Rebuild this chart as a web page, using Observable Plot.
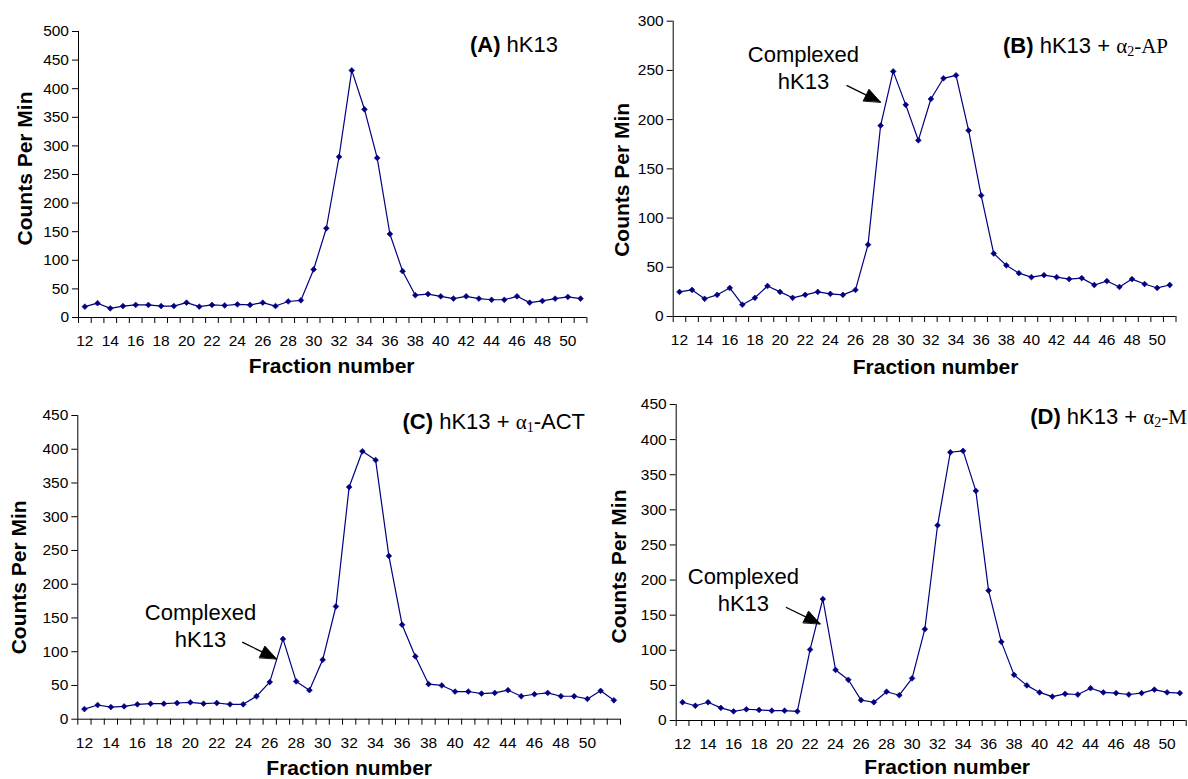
<!DOCTYPE html>
<html>
<head>
<meta charset="utf-8">
<script src="https://cdn.jsdelivr.net/npm/d3@7"></script>
<script src="https://cdn.jsdelivr.net/npm/@observablehq/plot@0.6"></script>
<style>
html, body { margin: 0; padding: 0; background: #fff; }
#fig { position: relative; width: 1188px; height: 779px; overflow: hidden; font-family: "Liberation Sans", Arial, sans-serif; }
.panel { position: absolute; }
.title { position: absolute; white-space: nowrap; font-size: 22px; color: #000; line-height: 1; transform: translateY(-50%); }
.title b { font-weight: bold; }
.serif { font-family: "Liberation Serif", "Times New Roman", serif; font-size: 21px; }
.serif sub { font-size: 14px; vertical-align: -3px; line-height: 0; }
</style>
</head>
<body>
<div id="fig"></div>
<script>
// ---------- data ----------
const fractionsA = [12,13,14,15,16,17,18,19,20,21,22,23,24,25,26,27,28,29,30,31,32,33,34,35,36,37,38,39,40,41,42,43,44,45,46,47,48,49,50,51];
const countsA    = [19,25,16,20,22,22,20,20,26,19,22,21,23,22,26,20,28,30,84,156,281,432,364,279,146,81,39,41,37,33,37,33,31,31,37,26,29,33,36,33];

const fractionsB = [12,13,14,15,16,17,18,19,20,21,22,23,24,25,26,27,28,29,30,31,32,33,34,35,36,37,38,39,40,41,42,43,44,45,46,47,48,49,50,51];
const countsB    = [25,27,18,22,29,12,19,31,25,19,22,25,23,22,27,73,194,249,215,179,221,242,245,189,123,64,52,44,40,42,40,38,39,32,36,30,38,33,29,32];

const fractionsC = [12,13,14,15,16,17,18,19,20,21,22,23,24,25,26,27,28,29,30,31,32,33,34,35,36,37,38,39,40,41,42,43,44,45,46,47,48,49,50,51,52];
const countsC    = [15,21,18,19,22,23,23,24,25,23,24,22,22,34,55,119,56,43,88,167,344,397,384,242,140,93,52,50,41,41,38,39,43,34,37,39,34,34,30,42,28];

const fractionsD = [12,13,14,15,16,17,18,19,20,21,22,23,24,25,26,27,28,29,30,31,32,33,34,35,36,37,38,39,40,41,42,43,44,45,46,47,48,49,50,51];
const countsD    = [26,21,26,18,13,16,15,14,14,13,101,173,72,58,29,26,41,36,60,130,278,382,384,327,185,112,65,50,40,34,38,37,46,40,39,37,39,44,40,39];

const xTickLabels = [12,14,16,18,20,22,24,26,28,30,32,34,36,38,40,42,44,46,48,50];
const yTicks500 = [0,50,100,150,200,250,300,350,400,450,500];
const yTicks300 = [0,50,100,150,200,250,300];
const yTicks450 = [0,50,100,150,200,250,300,350,400,450];

const xLabel = "Fraction number";
const yLabel = "Counts Per Min";
const annotText = "Complexed\nhK13";

// annotation anchors in data units
const annotB = [{x: 21.86, y: 253.6, text: annotText}];
const arrowB = [{x1: 25.29, y1: 234.8, x2: 27.99, y2: 217.8}];
const annotC = [{x: 20.77, y: 140.4, text: annotText}];
const arrowC = [{x1: 23.92, y1: 114.1, x2: 26.51, y2: 89.5}];
const annotD = [{x: 16.77, y: 187.5, text: annotText}];
const arrowD = [{x1: 20.1, y1: 161.3, x2: 22.79, y2: 137.7}];

// ---------- layout ----------
const panels = [
  {fractions: fractionsA, counts: countsA, yTicks: yTicks500, yMax: 500,
   left: 0, top: 0, width: 594, height: 380, mL: 78, mR: 7.6, mT: 31, mB: 63,
   yLabDx: -53, yLabDy: -6, xLabDx: -1, xLabDy: 49, annot: [], arrow: []},
  {fractions: fractionsB, counts: countsB, yTicks: yTicks300, yMax: 300,
   left: 594, top: 0, width: 594, height: 380, mL: 78.7, mR: 12.5, mT: 20.7, mB: 64,
   yLabDx: -51, yLabDy: 11, xLabDx: 11, xLabDy: 51, annot: annotB, arrow: arrowB},
  {fractions: fractionsC, counts: countsC, yTicks: yTicks450, yMax: 450,
   left: 0, top: 390, width: 624, height: 389, mL: 77.3, mR: 4, mT: 25, mB: 60.3,
   yLabDx: -59, yLabDy: 10, xLabDx: 0, xLabDy: 49, annot: annotC, arrow: arrowC},
  {fractions: fractionsD, counts: countsD, yTicks: yTicks450, yMax: 450,
   left: 594, top: 390, width: 594, height: 389, mL: 81.7, mR: 2.3, mT: 14, mB: 59,
   yLabDx: -57, yLabDy: 4, xLabDx: 16, xLabDy: 47, annot: annotD, arrow: arrowD}
];

const navy = "#000080";
const fig = document.getElementById("fig");

// filled triangular arrow head (tip at the vector's end)
const headShape = {
  draw(context, l) {
    const w = l * 0.4;
    context.moveTo(0, -l);
    context.lineTo(-w, 0);
    context.lineTo(w, 0);
    context.closePath();
  }
};

function makePlot(p, extra) {
  const data = p.fractions.map((f, i) => ({f, v: p.counts[i]}));
  const bounds = p.fractions.map(f => f - 0.5).concat([p.fractions[p.fractions.length - 1] + 0.5]);
  return Plot.plot({
    width: p.width,
    height: p.height,
    marginLeft: p.mL, marginRight: p.mR, marginTop: p.mT, marginBottom: p.mB,
    x: {domain: [bounds[0], bounds[bounds.length - 1]]},
    y: {domain: [0, p.yMax]},
    style: {background: "transparent", overflow: "visible", fontFamily: "'Liberation Sans', Arial, sans-serif", fontSize: "15.5px", color: "black"},
    marks: [
      Plot.axisY({ticks: p.yTicks, tickSize: 6, tickPadding: 3.5, label: null, fontSize: 15.5}),
      Plot.axisX({ticks: bounds, tickSize: 6, tickFormat: () => "", label: null}),
      Plot.axisX({ticks: xTickLabels, tickSize: 0, tickPadding: 17.5, label: null, fontSize: 15.5}),
      Plot.ruleY([0], {stroke: "black", strokeWidth: 1}),
      Plot.ruleX([bounds[0]], {stroke: "black", strokeWidth: 1}),
      Plot.line(data, {x: "f", y: "v", stroke: navy, strokeWidth: 1.2}),
      Plot.dot(data, {x: "f", y: "v", symbol: "diamond2", r: 2.6, fill: navy, stroke: navy, strokeWidth: 0.6}),
      Plot.text(p.annot, {x: "x", y: "y", text: "text", fontSize: 22, lineHeight: 1.23, textAnchor: "middle", lineAnchor: "middle", fill: "black"}),
      Plot.link(p.arrow, {x1: "x1", y1: "y1", x2: "x2", y2: "y2", stroke: "black", strokeWidth: 1.3}),
      Plot.text([yLabel], {frameAnchor: "left", dx: p.yLabDx, dy: p.yLabDy, rotate: -90, fontSize: 21, fontWeight: "bold", textAnchor: "middle", lineAnchor: "middle", fill: "black"}),
      Plot.text([xLabel], {frameAnchor: "bottom", dx: p.xLabDx, dy: p.xLabDy, fontSize: 21, fontWeight: "bold", textAnchor: "middle", lineAnchor: "middle", fill: "black"}),
      ...extra
    ]
  });
}

for (const p of panels) {
  // first pass: obtain the library's scales to orient the arrow heads
  const base = makePlot(p, []);
  const sx = base.scale("x"), sy = base.scale("y");
  const heads = p.arrow.map(a => {
    const dx = sx.apply(a.x2) - sx.apply(a.x1);
    const dy = sy.apply(a.y2) - sy.apply(a.y1);
    return {x: a.x2, y: a.y2, angle: Math.atan2(dx, -dy) * 180 / Math.PI};
  });
  const chart = makePlot(p, [
    Plot.vector(heads, {x: "x", y: "y", length: 16, rotate: "angle", anchor: "end", shape: headShape, fill: "black", stroke: "black", strokeWidth: 0.8, strokeLinejoin: "miter"})
  ]);
  const div = document.createElement("div");
  div.className = "panel";
  div.style.left = p.left + "px";
  div.style.top = p.top + "px";
  div.appendChild(chart);
  fig.appendChild(div);
}

// ---------- panel titles ----------
const titles = [
  {right: 558, y: 45, html: "<b>(A)</b> hK13"},
  {right: 1168, y: 46, html: "<b>(B)</b> hK13 + <span class='serif'>&alpha;<sub>2</sub>-AP</span>"},
  {right: 585, y: 422, html: "<b>(C)</b> hK13 + <span class='serif'>&alpha;<sub>1</sub></span>-ACT"},
  {right: 1187, y: 417, html: "<b>(D)</b> hK13 + <span class='serif'>&alpha;<sub>2</sub>-M</span>"}
];
for (const t of titles) {
  const d = document.createElement("div");
  d.className = "title";
  d.style.right = (1188 - t.right) + "px";
  d.style.top = t.y + "px";
  d.innerHTML = t.html;
  fig.appendChild(d);
}
</script>
</body>
</html>
